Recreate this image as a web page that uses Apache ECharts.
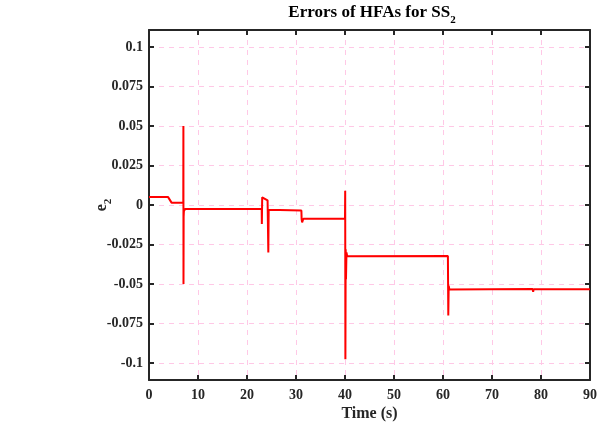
<!DOCTYPE html>
<html><head><meta charset="utf-8">
<script src="https://cdn.jsdelivr.net/npm/echarts@6/dist/echarts.min.js"></script>
<style>html,body{margin:0;padding:0;background:#fff}#c{width:597px;height:425px}</style>
</head><body><div id="c"></div>
<script>
const times = [0, 3.9, 4.6, 7.0, 7.02, 7.04, 7.07, 7.12, 7.35, 23.0, 23.03, 23.1, 23.4, 24.2, 24.3, 24.35, 24.42, 24.7, 31.1, 31.15, 31.25, 31.5, 40.0, 40.04, 40.08, 40.14, 40.2, 40.3, 40.45, 40.7, 61.0, 61.08, 61.16, 61.3, 61.7, 78.3, 78.4, 78.5, 90];
const errors = [0.005, 0.005, 0.0015, 0.0015, 0.05, -0.05, -0.0074, -0.004, -0.0025, -0.0025, -0.012, 0.0049, 0.004, 0.003, 0.002, -0.030, -0.003, -0.0035, -0.0035, -0.009, -0.011, -0.0087, -0.0087, 0.009, -0.0977, -0.028, -0.047, -0.030, -0.0325, -0.0323, -0.0323, -0.070, -0.051, -0.0535, -0.0532, -0.0532, -0.055, -0.0533, -0.0534];
const xTicks = [0, 10, 20, 30, 40, 50, 60, 70, 80, 90];
const yTicks = [-0.1, -0.075, -0.05, -0.025, 0, 0.025, 0.05, 0.075, 0.1];

const font = 'Liberation Serif';
const dark = '#262626';
const grid = '#ffc8e6';
const data = times.map((t, i) => [t, errors[i]]);
const yMin = -0.1108, yMax = 0.1108;

const chart = echarts.init(document.getElementById('c'), null, {renderer: 'canvas'});
const tickStyle = {show: true, inside: true, length: 5, lineStyle: {color: dark, width: 2}};
chart.setOption({
  animation: false,
  backgroundColor: '#fff',
  title: {
    text: '{a|Errors of HFAs for SS}{s|2}',
    left: 367, top: -2, textAlign: 'center',
    textStyle: {
      rich: {
        a: {fontFamily: font, fontWeight: 'bold', fontSize: 17, color: '#000', lineHeight: 20},
        s: {fontFamily: font, fontWeight: 'bold', fontSize: 11, color: '#000', verticalAlign: 'bottom', lineHeight: 11, padding: [0, 0, -3, 0]}
      }
    }
  },
  grid: {left: 149, right: 7, top: 30, bottom: 45, show: false, containLabel: false, outerBoundsMode: 'none'},
  xAxis: [{
    type: 'value', min: 0, max: 90, interval: 10,
    axisLine: {show: true, onZero: false, lineStyle: {color: dark, width: 2}},
    axisTick: tickStyle,
    axisLabel: {fontFamily: font, fontWeight: 'bold', fontSize: 14, color: '#262626', margin: 8, customValues: xTicks},
    splitLine: {show: true, lineStyle: {color: grid, type: [5, 5], width: 1}},
    name: 'Time (s)', nameLocation: 'middle', nameGap: 26, nameMoveOverlap: false,
    nameTextStyle: {fontFamily: font, fontWeight: 'bold', fontSize: 16, color: '#262626'}
  }, {
    type: 'value', min: 0, max: 90, interval: 10, position: 'top',
    axisLine: {show: true, onZero: false, lineStyle: {color: dark, width: 2}},
    axisTick: tickStyle, axisLabel: {show: false}, splitLine: {show: false}
  }],
  yAxis: [{
    type: 'value', min: yMin, max: yMax,
    axisLine: {show: true, onZero: false, lineStyle: {color: dark, width: 2}},
    axisTick: Object.assign({customValues: yTicks}, tickStyle),
    axisLabel: {fontFamily: font, fontWeight: 'bold', fontSize: 14, color: '#262626', margin: 6, customValues: yTicks,
      formatter: v => String(Math.round(v * 1000) / 1000)},
    splitLine: {show: true, lineStyle: {color: grid, type: [5, 5], width: 1}},
    name: '{a|e}{s|2}', nameLocation: 'middle', nameGap: 38, nameMoveOverlap: false,
    nameTextStyle: {rich: {
      a: {fontFamily: font, fontWeight: 'bold', fontSize: 16, color: '#262626', lineHeight: 18},
      s: {fontFamily: font, fontWeight: 'bold', fontSize: 11, color: '#262626', verticalAlign: 'bottom', lineHeight: 11, padding: [0, 0, -3, 0]}
    }}
  }, {
    type: 'value', min: yMin, max: yMax, position: 'right',
    axisLine: {show: true, onZero: false, lineStyle: {color: dark, width: 2}},
    axisTick: Object.assign({customValues: yTicks}, tickStyle),
    axisLabel: {show: false}, splitLine: {show: false}
  }],
  series: [{
    type: 'line', data: data, xAxisIndex: 0, yAxisIndex: 0,
    showSymbol: false, symbol: 'none',
    lineStyle: {color: '#ff0000', width: 2}, itemStyle: {color: '#ff0000'}
  }]
});
</script></body></html>
